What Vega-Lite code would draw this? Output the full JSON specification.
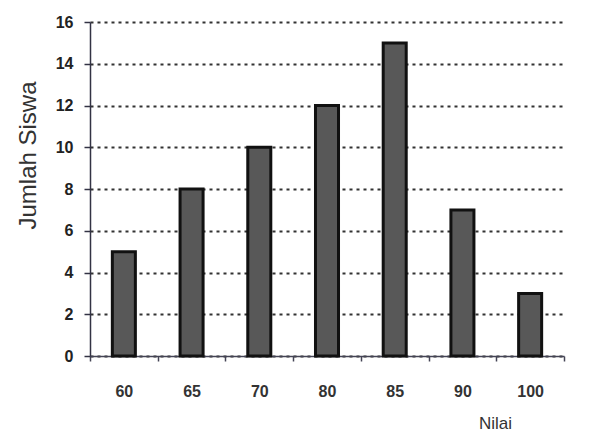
{
  "$schema": "https://vega.github.io/schema/vega-lite/v6.json",
  "width": 474,
  "height": 334,
  "autosize": "none",
  "padding": {"left": 90, "top": 22, "right": 36, "bottom": 92},
  "background": "white",
  "config": {"view": {"stroke": null}, "font": "Liberation Sans"},
  "data": {"values": [
    {"Nilai": "60", "Jumlah": 5},
    {"Nilai": "65", "Jumlah": 8},
    {"Nilai": "70", "Jumlah": 10},
    {"Nilai": "80", "Jumlah": 12},
    {"Nilai": "85", "Jumlah": 15},
    {"Nilai": "90", "Jumlah": 7},
    {"Nilai": "100", "Jumlah": 3}
  ]},
  "mark": {"type": "bar", "fill": "#585858", "stroke": "#111111", "strokeWidth": 3, "width": {"band": 0.34}},
  "encoding": {
    "x": {
      "field": "Nilai", "type": "ordinal", "sort": null,
      "scale": {"paddingInner": 0, "paddingOuter": 0},
      "axis": {
        "title": "Nilai", "titleFontSize": 17, "titleFontWeight": "normal", "titleColor": "#333",
        "titleX": 405, "titleY": 67, "titleBaseline": "middle", "titleAnchor": null,
        "labelAngle": 0, "labelFontSize": 16, "labelFontWeight": "bold", "labelColor": "#333", "labelPadding": 22,
        "tickBand": "extent", "tickSize": 5, "tickColor": "#445", "tickWidth": 1.5, "domainColor": "#445", "domainWidth": 1.5,
        "grid": false
      }
    },
    "y": {
      "field": "Jumlah", "type": "quantitative",
      "scale": {"domain": [0, 16]},
      "axis": {
        "title": "Jumlah Siswa", "titleFontSize": 24, "titleFontWeight": "normal", "titleColor": "#333",
        "titleX": -62, "titleY": 133, "titleAngle": -90, "titleBaseline": "middle", "titleAlign": "center",
        "values": [0, 2, 4, 6, 8, 10, 12, 14, 16],
        "labelFontSize": 16, "labelFontWeight": "bold", "labelColor": "#222", "labelPadding": 11,
        "tickSize": 6, "tickColor": "#334", "tickWidth": 1.5, "domainColor": "#334", "domainWidth": 1.5,
        "grid": true, "gridColor": "#333", "gridDash": [3, 4], "gridWidth": 2
      }
    }
  }
}
